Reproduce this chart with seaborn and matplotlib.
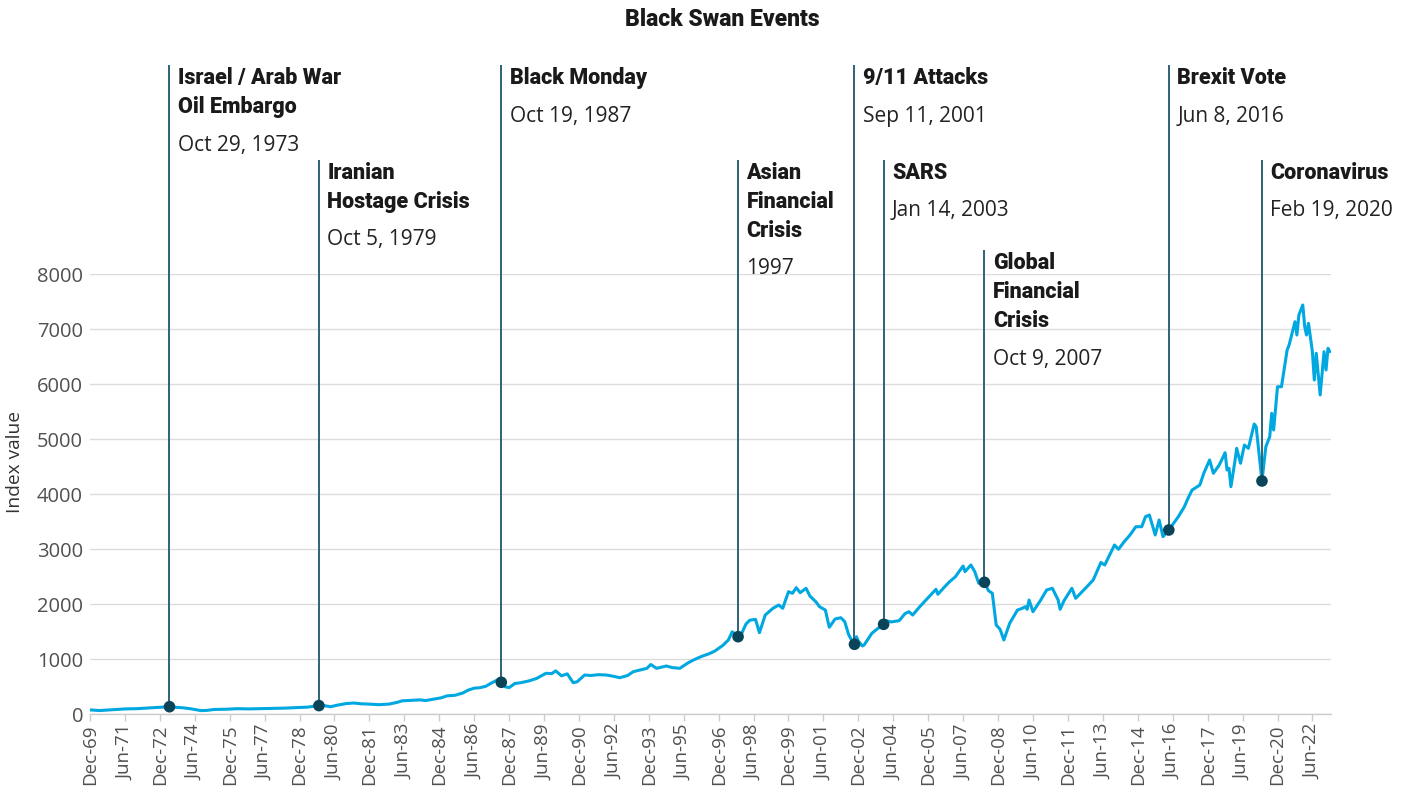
import numpy as np
import pandas as pd
import matplotlib
matplotlib.use("Agg")
import matplotlib.pyplot as plt
import matplotlib.dates as mdates
import seaborn as sns

# ---------------- data ----------------
months = [
    "1969-12", "1970-05", "1970-12", "1971-06", "1971-12", "1972-06", "1972-12", "1973-05", "1973-09", "1973-12",
    "1974-04", "1974-09", "1974-12", "1975-04", "1975-10", "1976-04", "1976-10", "1977-04", "1977-10", "1978-04",
    "1978-10", "1979-04", "1979-10", "1980-01", "1980-04", "1980-08", "1980-12", "1981-04", "1981-08", "1981-12",
    "1982-05", "1982-10", "1983-02", "1983-05", "1983-10", "1984-02", "1984-05", "1984-09", "1985-01", "1985-04",
    "1985-08", "1985-12", "1986-03", "1986-06", "1986-09", "1986-12", "1987-03", "1987-06", "1987-08", "1987-10",
    "1987-12", "1988-03", "1988-06", "1988-10", "1989-02", "1989-07", "1989-10", "1989-12", "1990-03", "1990-06",
    "1990-09", "1990-11", "1991-03", "1991-06", "1991-10", "1992-02", "1992-06", "1992-09", "1993-01", "1993-04",
    "1993-08", "1993-11", "1994-01", "1994-04", "1994-09", "1994-12", "1995-04", "1995-08", "1995-11", "1996-03",
    "1996-07", "1996-10", "1997-02", "1997-05", "1997-07", "1997-10", "1997-12", "1998-02", "1998-04", "1998-07",
    "1998-09", "1998-12", "1999-04", "1999-07", "1999-09", "1999-12", "2000-02", "2000-04", "2000-06", "2000-09",
    "2000-11", "2001-02", "2001-04", "2001-07", "2001-09", "2001-12", "2002-03", "2002-05", "2002-07", "2002-08",
    "2002-10", "2002-11", "2002-12", "2003-02", "2003-03", "2003-07", "2003-10", "2004-01", "2004-02", "2004-05",
    "2004-09", "2004-12", "2005-02", "2005-04", "2005-07", "2005-10", "2006-02", "2006-04", "2006-05", "2006-08",
    "2006-11", "2007-02", "2007-04", "2007-06", "2007-07", "2007-10", "2007-12", "2008-02", "2008-05", "2008-07",
    "2008-09", "2008-11", "2009-01", "2009-03", "2009-06", "2009-10", "2009-12", "2010-02", "2010-03", "2010-04",
    "2010-06", "2010-10", "2011-01", "2011-04", "2011-07", "2011-08", "2011-10", "2012-02", "2012-04", "2012-09",
    "2013-01", "2013-05", "2013-07", "2013-12", "2014-02", "2014-05", "2014-08", "2014-11", "2015-02", "2015-04",
    "2015-06", "2015-09", "2015-11", "2016-01", "2016-04", "2016-06", "2016-09", "2016-12", "2017-02", "2017-04",
    "2017-08", "2017-10", "2018-01", "2018-03", "2018-06", "2018-08", "2018-09", "2018-10", "2018-11", "2018-12",
    "2019-02", "2019-03", "2019-05", "2019-07", "2019-09", "2019-12", "2020-01", "2020-04", "2020-06", "2020-08",
    "2020-09", "2020-10", "2020-12", "2021-02", "2021-05", "2021-06", "2021-09", "2021-10", "2021-11", "2022-01",
    "2022-02", "2022-03", "2022-04", "2022-06", "2022-07", "2022-08", "2022-10", "2022-12", "2023-01", "2023-02",
    "2023-03",
]
index_values = [
    80, 68, 85, 98, 102, 115, 128, 138, 125, 118,
    100, 68, 70, 88, 92, 102, 98, 102, 106, 112,
    122, 130, 158, 155, 138, 170, 195, 205, 190, 185,
    175, 185, 215, 245, 255, 262, 250, 275, 300, 335,
    345, 385, 440, 475, 484, 510, 570, 625, 582, 500,
    485, 560, 575, 605, 650, 745, 740, 790, 700, 735,
    575, 590, 715, 705, 720, 715, 690, 665, 705, 775,
    810, 836, 905, 836, 878, 850, 836, 930, 987, 1050,
    1100, 1150, 1250, 1350, 1500, 1411, 1480, 1640, 1710, 1727,
    1484, 1805, 1927, 1987, 1927, 2229, 2200, 2302, 2211, 2291,
    2150, 2047, 1956, 1896, 1582, 1733, 1756, 1684, 1450, 1382,
    1273, 1411, 1330, 1242, 1260, 1473, 1560, 1636, 1702, 1680,
    1702, 1830, 1865, 1805, 1930, 2047, 2200, 2273, 2182, 2300,
    2411, 2502, 2600, 2696, 2593, 2715, 2593, 2382, 2400, 2250,
    2200, 1624, 1545, 1351, 1655, 1896, 1920, 1956, 1909, 2078,
    1865, 2078, 2260, 2291, 2078, 1909, 2066, 2291, 2109, 2291,
    2442, 2760, 2715, 3078, 3000, 3138, 3260, 3411, 3411, 3593,
    3624, 3260, 3533, 3229, 3351, 3450, 3600, 3775, 3940, 4078,
    4169, 4382, 4624, 4382, 4533, 4684, 4756, 4442, 4473, 4138,
    4593, 4836, 4564, 4896, 4836, 5278, 5229, 4242, 4866, 5047,
    5473, 5169, 5956, 5956, 6624, 6715, 7138, 6896, 7260, 7442,
    7047, 6896, 7109, 6593, 6078, 6564, 5806, 6593, 6260, 6655,
    6593,
]

event_titles = [
    ["Israel / Arab War", "Oil Embargo"],
    ["Iranian", "Hostage Crisis"],
    ["Black Monday"],
    ["Asian", "Financial", "Crisis"],
    ["9/11 Attacks"],
    ["SARS"],
    ["Global", "Financial", "Crisis"],
    ["Brexit Vote"],
    ["Coronavirus"],
]
event_date_labels = [
    "Oct 29, 1973", "Oct 5, 1979", "Oct 19, 1987", "1997", "Sep 11, 2001",
    "Jan 14, 2003", "Oct 9, 2007", "Jun 8, 2016", "Feb 19, 2020",
]
event_marker_dates = [
    "1973-05", "1979-10", "1987-08", "1997-10", "2002-10",
    "2004-01", "2008-05", "2016-04", "2020-04",
]
event_marker_values = [138, 158, 582, 1411, 1273, 1636, 2400, 3351, 4242]

# layout (label tier of each event, top of its leader line in data units)
event_tier = [0, 1, 0, 1, 0, 1, 2, 0, 1]
tier_tops = [11800, 10080, 8440]

# ---------------- style ----------------
sns.set_theme(style="white")
plt.rcParams["font.family"] = ["Open Sans", "DejaVu Sans"]

LINE_C = "#00a8e1"
EVT_LINE_C = "#2c6376"
DOT_C = "#0b4459"
TXT_C = "#1a1a1a"
TICK_C = "#505050"
BOLD_FAM = ["Roboto", "DejaVu Sans"]

W, H = 1412, 789
fig = plt.figure(figsize=(W / 100, H / 100), dpi=100)
ax = fig.add_axes([90 / W, 1 - 714.3 / H, (1331 - 90) / W, (714.3 - 274.3) / H])

df = pd.DataFrame({"date": pd.to_datetime(months), "value": index_values})
sns.lineplot(data=df, x="date", y="value", ax=ax, color=LINE_C, lw=2.2, zorder=3)

ax.set_ylim(0, 8000)
ax.set_xlim(pd.Timestamp("1969-12-01"), pd.Timestamp("2023-03-20"))
ax.set_yticks(range(0, 8001, 1000))
ax.grid(axis="y", color="#dcdcdc", lw=1.0, zorder=0)
ax.grid(axis="x", visible=False)

ticks = pd.date_range("1969-12-01", periods=36, freq="18MS")
ax.set_xticks(ticks)
ax.xaxis.set_major_formatter(mdates.DateFormatter("%b-%y"))

for s in ["left", "top", "right"]:
    ax.spines[s].set_visible(False)
ax.spines["bottom"].set_color("#cccccc")
ax.spines["bottom"].set_linewidth(1.0)

ax.tick_params(axis="x", which="major", bottom=True, length=5, width=1, color="#cccccc",
               labelrotation=90, labelsize=13.5, labelcolor=TICK_C, pad=2)
ax.tick_params(axis="y", length=0, labelsize=14.5, labelcolor=TICK_C, pad=5)
ax.set_xlabel("")
ax.set_ylabel("")
for lbl in ax.get_xticklabels():
    lbl.set_ha("center")
    lbl.set_va("top")

fig.text(15 / W, 1 - 462 / H, "Index value", rotation=90, ha="center", va="center",
         fontsize=13.8, color="#333333")

fig.text(722 / W, 1 - 20 / H, "Black Swan Events", ha="center", va="center",
         fontsize=16.5, fontweight=900, family=BOLD_FAM, color=TXT_C)

# ---------------- events ----------------
mdates_ev = pd.to_datetime(event_marker_dates)
for i, (d, v) in enumerate(zip(mdates_ev, event_marker_values)):
    top = tier_tops[event_tier[i]]
    ax.plot([d, d], [v, top], color=EVT_LINE_C, lw=1.4, clip_on=False, zorder=4,
            solid_capstyle="butt")
    y_off = -13 * 0.72
    for line in event_titles[i]:
        ax.annotate(line, xy=(d, top), xycoords="data", xytext=(6, y_off),
                    textcoords="offset points", ha="left", va="center",
                    fontsize=15.5, fontweight=900, family=BOLD_FAM,
                    color=TXT_C, annotation_clip=False)
        y_off -= 29 * 0.72
    y_off += 29 * 0.72
    y_off -= 38 * 0.72
    ax.annotate(event_date_labels[i], xy=(d, top), xycoords="data", xytext=(6, y_off),
                textcoords="offset points", ha="left", va="center",
                fontsize=15, color="#222222", annotation_clip=False)

ev_df = pd.DataFrame({"date": mdates_ev, "value": event_marker_values})
sns.scatterplot(data=ev_df, x="date", y="value", ax=ax, color=DOT_C, s=70,
                edgecolor="none", zorder=5, clip_on=False, legend=False)
ax.set_xlabel("")
ax.set_ylabel("")

fig.savefig("out.png", dpi=100)
